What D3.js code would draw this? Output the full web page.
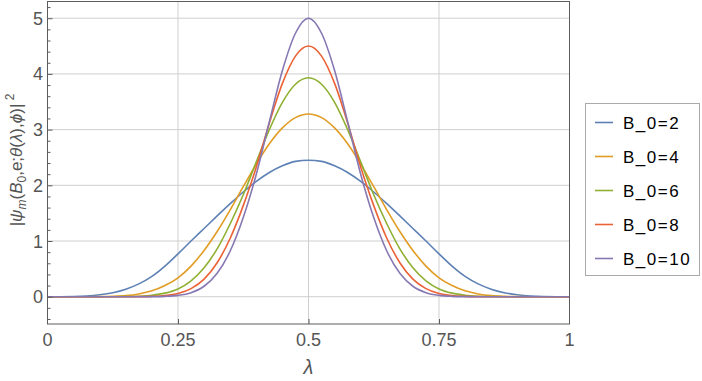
<!DOCTYPE html>
<html>
<head>
<meta charset="utf-8">
<script src="https://cdn.jsdelivr.net/npm/d3@7"></script>
<style>
    body { margin: 0; background: #fff; }
    .tick-label { font-family: "Liberation Sans", Arial, sans-serif; font-size: 18px; fill: #555; }
    .legend-text { font-family: "Liberation Sans", Arial, sans-serif; font-size: 17px; fill: #000; letter-spacing: 1.5px; }
</style>
</head>
<body>
<div id="chart"></div>
<script>
// lambda sample positions (step 0.025)
var lambdas = [0, 0.025, 0.05, 0.075, 0.1, 0.125, 0.15, 0.175, 0.2, 0.225, 0.25,
    0.275, 0.3, 0.325, 0.35, 0.375, 0.4, 0.425, 0.45, 0.475, 0.5,
    0.525, 0.55, 0.575, 0.6, 0.625, 0.65, 0.675, 0.7, 0.725, 0.75,
    0.775, 0.8, 0.825, 0.85, 0.875, 0.9, 0.925, 0.95, 0.975, 1];

// values
var b2 = [0, 0.0003, 0.003, 0.013, 0.035, 0.072, 0.135, 0.23, 0.365, 0.55, 0.77,
    1.0, 1.225, 1.45, 1.67, 1.88, 2.07, 2.23, 2.35, 2.43, 2.45,
    2.43, 2.35, 2.23, 2.07, 1.88, 1.67, 1.45, 1.225, 1.0, 0.77,
    0.55, 0.365, 0.23, 0.135, 0.072, 0.035, 0.013, 0.003, 0.0003, 0];
var b4 = [0, 0, 0, 0.0003, 0.002, 0.007, 0.02, 0.05, 0.105, 0.2, 0.34,
    0.55, 0.83, 1.17, 1.56, 1.975, 2.38, 2.745, 3.03, 3.215, 3.28,
    3.215, 3.03, 2.745, 2.38, 1.975, 1.56, 1.17, 0.83, 0.55, 0.34,
    0.2, 0.105, 0.05, 0.02, 0.007, 0.002, 0.0003, 0, 0, 0];
var b6 = [0, 0, 0, 0, 0, 0.0005, 0.0025, 0.009, 0.026, 0.064, 0.14,
    0.285, 0.52, 0.86, 1.31, 1.83, 2.42, 3.0, 3.49, 3.815, 3.93,
    3.815, 3.49, 3.0, 2.42, 1.83, 1.31, 0.86, 0.52, 0.285, 0.14,
    0.064, 0.026, 0.009, 0.0025, 0.0005, 0, 0, 0, 0, 0];
var b8 = [0, 0, 0, 0, 0, 0, 0.0002, 0.0014, 0.006, 0.02, 0.058,
    0.145, 0.315, 0.61, 1.05, 1.635, 2.33, 3.12, 3.83, 4.32, 4.5,
    4.32, 3.83, 3.12, 2.33, 1.635, 1.05, 0.61, 0.315, 0.145, 0.058,
    0.02, 0.006, 0.0014, 0.0002, 0, 0, 0, 0, 0, 0];
var b10 = [0, 0, 0, 0, 0, 0, 0, 0.0002, 0.0014, 0.0065, 0.024,
    0.073, 0.188, 0.42, 0.82, 1.42, 2.2, 3.14, 4.06, 4.73, 5.0,
    4.73, 4.06, 3.14, 2.2, 1.42, 0.82, 0.42, 0.188, 0.073, 0.024,
    0.0065, 0.0014, 0.0002, 0, 0, 0, 0, 0, 0, 0];

var seriesNames = ["B_0=2", "B_0=4", "B_0=6", "B_0=8", "B_0=10"];
var seriesValues = [b2, b4, b6, b8, b10];
var colors = ["#5E81B5", "#E19C24", "#8FB032", "#EB6235", "#8778B3"];

var xTicks = [0, 0.25, 0.5, 0.75, 1];
var xTickLabels = ["0", "0.25", "0.5", "0.75", "1"];
var yTicks = [0, 1, 2, 3, 4, 5];

var width = 702, height = 381;

var svg = d3.select("#chart")
    .append("svg")
    .attr("width", width)
    .attr("height", height);

//scales
var x = d3.scaleLinear().domain([0, 1]).range([47.5, 569.5]);
var y = d3.scaleLinear().domain([-0.49, 5.3]).range([324, 1.5]);

//grid
var grid = svg.append("g");
grid.selectAll(".vgrid")
    .data(xTicks.slice(1, -1))
    .enter().append("line")
    .attr("x1", function (d) { return x(d); })
    .attr("x2", function (d) { return x(d); })
    .attr("y1", y.range()[0])
    .attr("y2", y.range()[1])
    .attr("stroke", "#cfcfcf")
    .attr("stroke-width", 1);
grid.selectAll(".hgrid")
    .data(yTicks)
    .enter().append("line")
    .attr("x1", x.range()[0])
    .attr("x2", x.range()[1])
    .attr("y1", function (d) { return y(d); })
    .attr("y2", function (d) { return y(d); })
    .attr("stroke", "#cfcfcf")
    .attr("stroke-width", 1);

//curves
var line = d3.line()
    .x(function (d, i) { return x(lambdas[i]); })
    .y(function (d) { return y(d); })
    .curve(d3.curveMonotoneX);

svg.append("g").selectAll("path")
    .data(seriesValues)
    .enter().append("path")
    .attr("d", line)
    .attr("fill", "none")
    .attr("stroke", function (d, i) { return colors[i]; })
    .attr("stroke-width", 1.6);

//frame
svg.append("rect")
    .attr("x", x.range()[0])
    .attr("y", y.range()[1])
    .attr("width", x.range()[1] - x.range()[0])
    .attr("height", y.range()[0] - y.range()[1])
    .attr("fill", "none")
    .attr("stroke", "#5c5c5c")
    .attr("stroke-width", 1);

//axes (ticks inward)
var xAxis = d3.axisBottom(x).tickValues(xTicks.slice(1, -1)).tickSize(-5).tickFormat("");
svg.append("g")
    .attr("transform", "translate(0," + y.range()[0] + ")")
    .call(xAxis)
    .call(function (g) {
        g.select(".domain").remove();
        g.selectAll("line").attr("stroke", "#5c5c5c");
    });

var minorY = d3.range(-2, 27).map(function (k) { return k / 5; })
    .filter(function (v) { return Math.abs(v - Math.round(v)) > 1e-6; });
svg.append("g")
    .attr("transform", "translate(" + x.range()[0] + ",0)")
    .call(d3.axisLeft(y).tickValues(minorY).tickSize(-3).tickFormat(""))
    .call(function (g) {
        g.select(".domain").remove();
        g.selectAll("line").attr("stroke", "#5c5c5c");
    });
svg.append("g")
    .attr("transform", "translate(" + x.range()[0] + ",0)")
    .call(d3.axisLeft(y).tickValues(yTicks).tickSize(-5).tickFormat(""))
    .call(function (g) {
        g.select(".domain").remove();
        g.selectAll("line").attr("stroke", "#5c5c5c");
    });

//tick labels
svg.selectAll(".xlab")
    .data(xTicks)
    .enter().append("text")
    .attr("class", "tick-label")
    .attr("x", function (d) { return x(d); })
    .attr("y", 346)
    .attr("text-anchor", "middle")
    .text(function (d, i) { return xTickLabels[i]; });

svg.selectAll(".ylab")
    .data(yTicks)
    .enter().append("text")
    .attr("class", "tick-label")
    .attr("x", 43)
    .attr("y", function (d) { return y(d) + 6.5; })
    .attr("text-anchor", "end")
    .text(function (d) { return d; });

//axis titles
svg.append("text")
    .attr("class", "tick-label")
    .attr("x", x(0.5))
    .attr("y", 374)
    .attr("text-anchor", "middle")
    .attr("font-style", "italic")
    .style("font-size", "20px")
    .text("λ");

var yTitle = svg.append("text")
    .attr("class", "tick-label")
    .attr("transform", "translate(22,160) rotate(-90)")
    .attr("text-anchor", "middle")
    .style("font-size", "17px");
yTitle.append("tspan").text("|");
yTitle.append("tspan").attr("font-style", "italic").text("ψ");
yTitle.append("tspan").attr("font-style", "italic").attr("dy", 4).style("font-size", "12px").text("m");
yTitle.append("tspan").attr("dy", -4).text("(");
yTitle.append("tspan").attr("font-style", "italic").text("B");
yTitle.append("tspan").attr("dy", 4).style("font-size", "12px").text("0");
yTitle.append("tspan").attr("dy", -4).text(",e;");
yTitle.append("tspan").attr("font-style", "italic").text("θ");
yTitle.append("tspan").text("(");
yTitle.append("tspan").attr("font-style", "italic").text("λ");
yTitle.append("tspan").text("),");
yTitle.append("tspan").attr("font-style", "italic").text("ϕ");
yTitle.append("tspan").text(")|");
yTitle.append("tspan").attr("dy", -8).style("font-size", "12px").text(" 2");

//legend
var legend = svg.append("g");
legend.append("rect")
    .attr("x", 585.5)
    .attr("y", 103.5)
    .attr("width", 114)
    .attr("height", 172)
    .attr("fill", "#fff")
    .attr("stroke", "#aaa")
    .attr("stroke-width", 1);

var rows = legend.selectAll(".row")
    .data(seriesNames)
    .enter().append("g")
    .attr("transform", function (d, i) { return "translate(0," + (122.5 + i * 34) + ")"; });
rows.append("line")
    .attr("x1", 595)
    .attr("x2", 613)
    .attr("stroke", function (d, i) { return colors[i]; })
    .attr("stroke-width", 1.6);
rows.append("text")
    .attr("class", "legend-text")
    .attr("x", 623)
    .attr("y", 6)
    .text(function (d) { return d; });
</script>
</body>
</html>
